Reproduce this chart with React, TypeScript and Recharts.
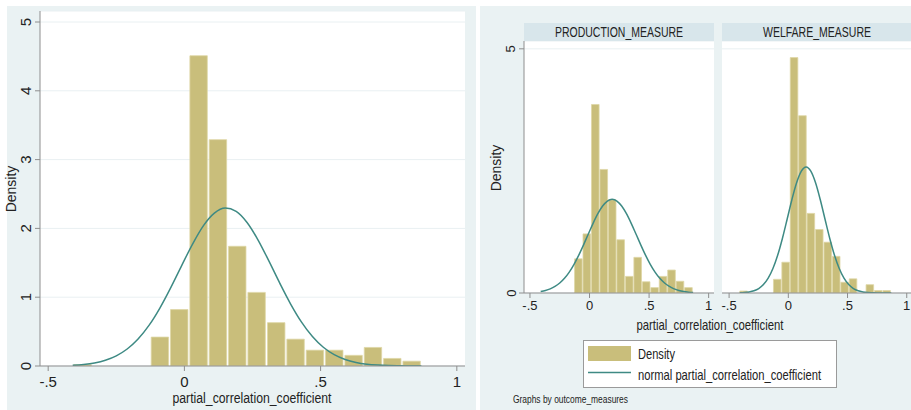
import { ComposedChart, Bar, Line, XAxis, YAxis, CartesianGrid } from 'recharts';

// histogram bins (shared by all three panels)
const BIN_CENTERS = [-0.374, -0.303, -0.232, -0.161, -0.09, -0.019, 0.052, 0.123, 0.194, 0.265, 0.337, 0.408, 0.479, 0.55, 0.621, 0.692, 0.763, 0.834];
const BIN_WIDTH = 0.0711;

const ALL_DENSITY = [0.02, 0, 0, 0, 0.42, 0.82, 4.51, 3.29, 1.74, 1.07, 0.63, 0.39, 0.23, 0.23, 0.155, 0.27, 0.11, 0.07];
const PRODUCTION_DENSITY = [0, 0, 0, 0, 0.7, 1.21, 3.86, 2.53, 1.91, 1.09, 0.34, 0.73, 0.23, 0.11, 0.34, 0.47, 0.24, 0.11];
const WELFARE_DENSITY = [0.04, 0, 0, 0, 0.28, 0.63, 4.82, 3.63, 1.63, 1.3, 1.04, 0.75, 0.22, 0.29, 0, 0.17, 0.05, 0.05];

// normal overlay
const CURVE_X = [-0.41, -0.37, -0.33, -0.29, -0.25, -0.21, -0.17, -0.13, -0.09, -0.05, -0.01, 0.03, 0.07, 0.11, 0.15, 0.19, 0.23, 0.27, 0.31, 0.35, 0.39, 0.43, 0.47, 0.51, 0.55, 0.59, 0.63, 0.67, 0.71, 0.75, 0.79, 0.83, 0.87];
const ALL_NORMAL = [0.011, 0.023, 0.045, 0.084, 0.148, 0.247, 0.392, 0.59, 0.843, 1.14, 1.46, 1.772, 2.04, 2.222, 2.296, 2.248, 2.086, 1.834, 1.527, 1.205, 0.901, 0.638, 0.428, 0.272, 0.164, 0.094, 0.051, 0.026, 0.013, 0.006, 0.003, 0.001, 0];
const PRODUCTION_NORMAL = [0.03, 0.051, 0.084, 0.134, 0.205, 0.302, 0.429, 0.587, 0.775, 0.986, 1.208, 1.427, 1.624, 1.781, 1.883, 1.918, 1.883, 1.781, 1.624, 1.427, 1.208, 0.986, 0.775, 0.587, 0.429, 0.302, 0.205, 0.134, 0.084, 0.051, 0.03, 0.017, 0.009];
const WELFARE_NORMAL = [0.004, 0.009, 0.021, 0.045, 0.091, 0.172, 0.303, 0.501, 0.773, 1.117, 1.51, 1.909, 2.257, 2.495, 2.58, 2.495, 2.257, 1.909, 1.51, 1.117, 0.773, 0.501, 0.303, 0.172, 0.091, 0.045, 0.021, 0.009, 0.004, 0.001, 0.001, 0, 0];

const X_TICKS = [-0.5, 0, 0.5, 1];
const X_TICK_LABELS = ['-.5', '0', '.5', '1'];
const Y_TICKS_FULL = [0, 1, 2, 3, 4, 5];
const Y_TICKS_FACET = [0, 5];
const Y_MAX = 5.16;

const SANS = '"Liberation Sans", Arial, sans-serif';
const KHAKI = '#C9BE7B';
const KHAKI_EDGE = '#DED7A6';
const TEAL = '#3E8A84';
const AXIS = '#8E8E8E';
const PANEL_BG = '#EAF2F3';
const STRIP_BG = '#D8E6EB';
const INK = '#222';

const xLabel = (v: number) => X_TICK_LABELS[X_TICKS.indexOf(v)] ?? String(v);

// the source picture is squeezed horizontally, so long texts get a fixed length
function Squeezed({ x, y, size, len, anchor = 'middle', children }: { x: number; y: number; size: number; len: number; anchor?: 'start' | 'middle'; children: string }) {
  return (
    <text x={x} y={y} textAnchor={anchor} fontSize={size} fontFamily={SANS} fill={INK} textLength={len} lengthAdjust="spacingAndGlyphs">
      {children}
    </text>
  );
}

interface HistProps {
  density: number[];
  normal: number[];
  width: number;
  height: number;
  margin: { top: number; right: number; bottom: number; left: number };
  xDomain: [number, number];
  yTicks: number[];
  yAxisWidth: number;
  showY: boolean;
  xFont: number;
  xDy: number;
  yFont: number;
  yShift: number;
  xTitle?: { x: number; y: number; size: number; len: number };
  yTitle?: { x: number; y: number; size: number };
}

function Histogram(p: HistProps) {
  const bins = BIN_CENTERS.map((x, i) => ({ x, density: p.density[i] }));
  const curve = CURVE_X.map((x, i) => ({ x, y: p.normal[i] }));
  const plotW = p.width - p.margin.left - p.margin.right - (p.showY ? p.yAxisWidth : 0);
  const barSize = (BIN_WIDTH * plotW) / (p.xDomain[1] - p.xDomain[0]);

  return (
    <ComposedChart width={p.width} height={p.height} data={bins} margin={p.margin} barCategoryGap={0} barGap={0}>
      <CartesianGrid vertical={false} fill="#fff" stroke="#E9F0F2" />
      <XAxis
        type="number"
        dataKey="x"
        domain={p.xDomain}
        allowDataOverflow
        ticks={X_TICKS}
        interval={0}
        height={30}
        tickSize={5}
        tickMargin={2}
        axisLine={{ stroke: AXIS }}
        tickLine={{ stroke: AXIS }}
        tick={(t: any) => (
          <text x={t.x} y={t.y + p.xDy} textAnchor="middle" fontSize={p.xFont} fontFamily={SANS} fill={INK}>
            {xLabel(t.payload.value)}
          </text>
        )}
        label={p.xTitle ? {
          value: 'partial_correlation_coefficient',
          content: () => (
            <Squeezed x={p.xTitle!.x} y={p.xTitle!.y} size={p.xTitle!.size} len={p.xTitle!.len}>
              partial_correlation_coefficient
            </Squeezed>
          ),
        } : undefined}
      />
      <XAxis xAxisId="curve" type="number" dataKey="x" domain={p.xDomain} allowDataOverflow hide />
      <YAxis
        type="number"
        domain={[0, Y_MAX]}
        allowDataOverflow
        ticks={p.yTicks}
        interval={0}
        width={p.yAxisWidth}
        hide={!p.showY}
        tickSize={5}
        tickMargin={2}
        axisLine={{ stroke: AXIS }}
        tickLine={{ stroke: AXIS }}
        tick={(t: any) => {
          const bx = t.x - p.yShift;
          return (
            <text x={bx} y={t.y} transform={`rotate(-90 ${bx} ${t.y})`} textAnchor="middle" fontSize={p.yFont} fontFamily={SANS} fill={INK}>
              {t.payload.value}
            </text>
          );
        }}
        label={p.yTitle ? {
          value: 'Density',
          content: () => (
            <text x={p.yTitle!.x} y={p.yTitle!.y} transform={`rotate(-90 ${p.yTitle!.x} ${p.yTitle!.y})`} textAnchor="middle" fontSize={p.yTitle!.size} fontFamily={SANS} fill={INK}>
              Density
            </text>
          ),
        } : undefined}
      />
      <Bar dataKey="density" fill={KHAKI} stroke={KHAKI_EDGE} strokeWidth={0.8} barSize={barSize} isAnimationActive={false} />
      <Line xAxisId="curve" data={curve} dataKey="y" type="monotone" stroke={TEAL} strokeWidth={1.5} dot={false} isAnimationActive={false} />
    </ComposedChart>
  );
}

export default function App() {
  return (
    <div style={{ position: 'fixed', left: 0, top: 0, width: 911, height: 410, background: '#fff', overflow: 'hidden' }}>
      <div style={{ position: 'absolute', left: 7, top: 6, width: 469, height: 404, background: PANEL_BG }} />
      <div style={{ position: 'absolute', left: 480, top: 6, width: 431, height: 404, background: PANEL_BG }} />

      <div style={{ position: 'absolute', left: 0, top: 0 }}>
        <Histogram
          density={ALL_DENSITY}
          normal={ALL_NORMAL}
          width={476}
          height={410}
          margin={{ top: 11, right: 11, bottom: 14, left: 0 }}
          xDomain={[-0.53, 1.03]}
          yTicks={Y_TICKS_FULL}
          yAxisWidth={40}
          showY
          xFont={15}
          xDy={13.5}
          yFont={15}
          yShift={2}
          xTitle={{ x: 252, y: 403, size: 15.5, len: 159 }}
          yTitle={{ x: 16, y: 189, size: 14 }}
        />
      </div>

      <div style={{ position: 'absolute', left: 480, top: 0 }}>
        <Histogram
          density={PRODUCTION_DENSITY}
          normal={PRODUCTION_NORMAL}
          width={240}
          height={410}
          margin={{ top: 41, right: 6, bottom: 87, left: 0 }}
          xDomain={[-0.55, 1.045]}
          yTicks={Y_TICKS_FACET}
          yAxisWidth={44}
          showY
          xFont={13}
          xDy={9.5}
          yFont={13}
          yShift={1.5}
          yTitle={{ x: 20.5, y: 168, size: 14 }}
        />
      </div>

      <div style={{ position: 'absolute', left: 720, top: 0 }}>
        <Histogram
          density={WELFARE_DENSITY}
          normal={WELFARE_NORMAL}
          width={191}
          height={410}
          margin={{ top: 41, right: 0, bottom: 87, left: 2 }}
          xDomain={[-0.56, 1.036]}
          yTicks={Y_TICKS_FACET}
          yAxisWidth={0}
          showY={false}
          xFont={13}
          xDy={9.5}
          yFont={13}
          yShift={1.5}
        />
      </div>

      <svg width={911} height={410} style={{ position: 'absolute', left: 0, top: 0, pointerEvents: 'none' }}>
        <rect x={524} y={23} width={190} height={18} fill={STRIP_BG} />
        <Squeezed x={619} y={36.5} size={14} len={128}>PRODUCTION_MEASURE</Squeezed>
        <rect x={722} y={23} width={189} height={18} fill={STRIP_BG} />
        <Squeezed x={817} y={36.5} size={14} len={108}>WELFARE_MEASURE</Squeezed>

        <Squeezed x={710} y={330} size={15} len={147}>partial_correlation_coefficient</Squeezed>

        <rect x={583.5} y={340.5} width={253} height={47} fill="#fff" stroke="#9A9A9A" strokeWidth={1} />
        <rect x={588} y={346} width={43} height={15} fill={KHAKI} />
        <Squeezed x={638} y={359} size={15} len={37} anchor="start">Density</Squeezed>
        <line x1={588} x2={631} y1={372.5} y2={372.5} stroke={TEAL} strokeWidth={1.5} />
        <Squeezed x={638} y={380} size={15} len={183} anchor="start">normal partial_correlation_coefficient</Squeezed>

        <Squeezed x={513} y={403} size={11} len={115} anchor="start">Graphs by outcome_measures</Squeezed>
      </svg>
    </div>
  );
}
